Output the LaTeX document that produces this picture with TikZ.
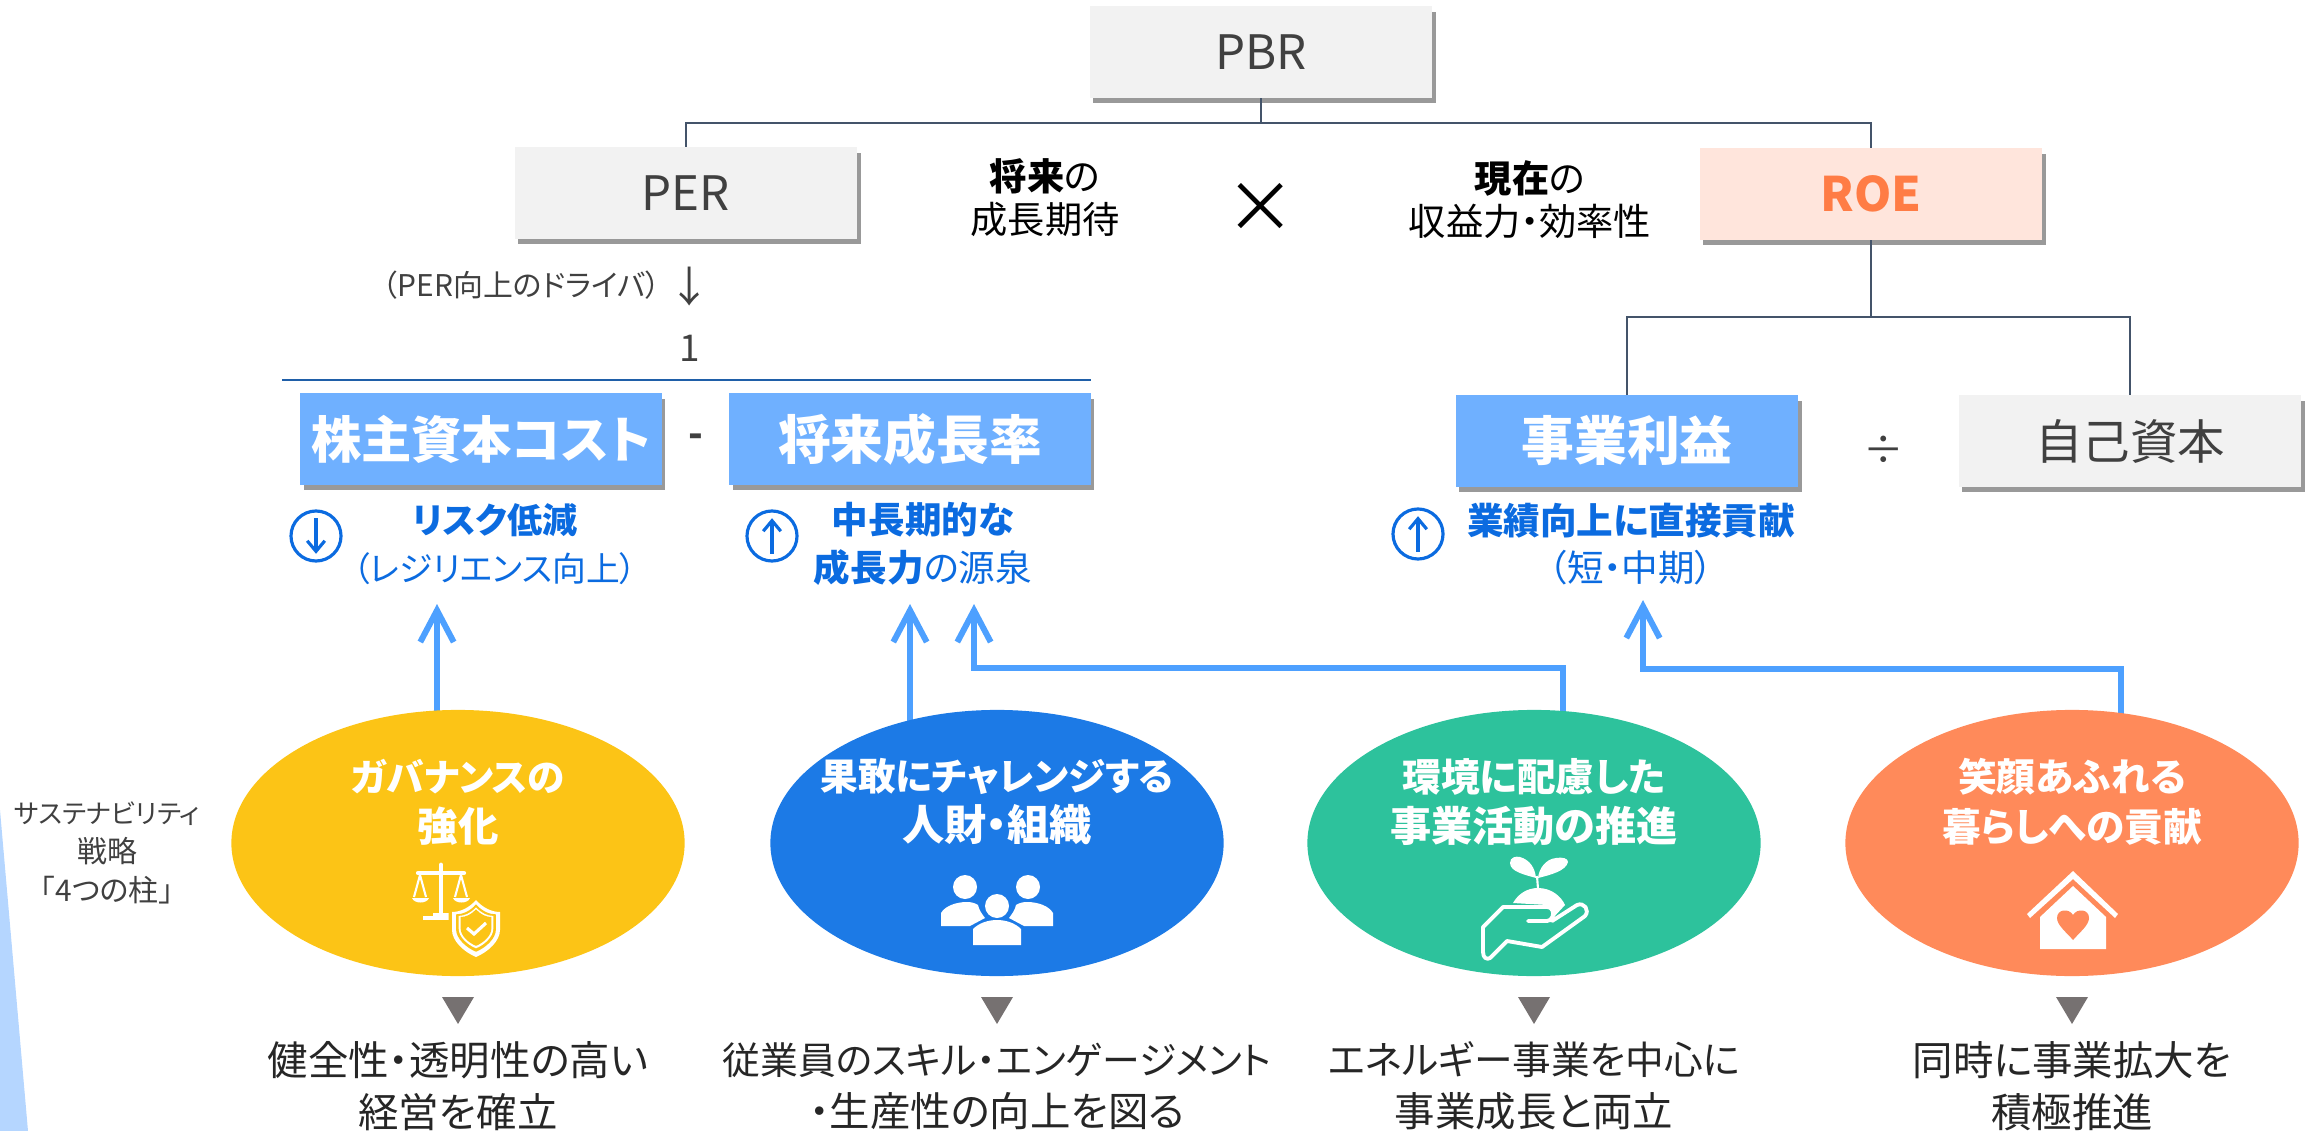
\documentclass[tikz,border=0pt]{standalone}
\usepackage{fontspec}
\setmainfont[RawFeature=+palt]{Noto Sans CJK JP}
\usetikzlibrary{arrows.meta}
\usetikzlibrary{shadows}
\usetikzlibrary{backgrounds}
\usetikzlibrary{shapes.geometric}
\definecolor{boxGray}{HTML}{F2F2F2}
\definecolor{boxPeach}{HTML}{FFE5DC}
\definecolor{boxBlue}{HTML}{6FB0FF}
\definecolor{roeOrange}{HTML}{FF7C45}
\definecolor{treeLine}{HTML}{44546A}
\definecolor{ruleBlue}{HTML}{1F5FA8}
\definecolor{flowBlue}{HTML}{4DA0FF}
\definecolor{noteBlue}{HTML}{0B6BE0}
\definecolor{inkGray}{HTML}{404040}
\definecolor{govYellow}{HTML}{FCC416}
\definecolor{peopleBlue}{HTML}{1C7AE6}
\definecolor{envGreen}{HTML}{2DC29C}
\definecolor{lifeOrange}{HTML}{FF8A5A}
\definecolor{markGray}{HTML}{767171}
\definecolor{sliverBlue}{HTML}{B5D6FF}
\newcommand{\fsz}[2]{\fontsize{#1}{#2}\selectfont}
\newcommand{\shieldpath}{(0,-26) .. controls (-7,-18) and (-16,-14) .. (-24,-14) -- (-24,4) .. controls (-24,15) and (-12,26) .. (0,31) .. controls (12,26) and (24,15) .. (24,4) -- (24,-14) .. controls (16,-14) and (7,-18) .. (0,-26) -- cycle}
\tikzset{
  kpi/.style={minimum width=3.42cm,minimum height=0.91cm,inner sep=0pt,
    drop shadow={shadow xshift=1pt,shadow yshift=-1.5pt,opacity=.4,fill=black}},
  graybox/.style={kpi,fill=boxGray,text=inkGray,font=\fsz{13.5}{16}},
  bluebox/.style={kpi,fill=boxBlue,text=white,font=\fsz{15}{18}\bfseries},
  tree/.style={draw=treeLine,line width=0.4pt},
  flow/.style={draw=flowBlue,line width=1.7pt,-{Straight Barb[length=9pt,width=9.5pt]}},
  note/.style={align=center,inner sep=0pt,text=noteBlue,font=\fsz{10.4}{13.5}},
  plain/.style={align=center,inner sep=0pt,text=inkGray},
  updown/.style={circle,draw=noteBlue,line width=0.9pt,minimum size=0.5cm,inner sep=0pt},
  markarrow/.style={draw=noteBlue,line width=0.9pt,-{Straight Barb[length=3pt,width=5pt]}},
  pillar/.style={ellipse,minimum width=4.53cm,minimum height=2.66cm,inner sep=0pt},
}
\begin{document}
\begin{tikzpicture}[x=0.01cm,y=-0.01cm]
  \useasboundingbox (0,0) rectangle (2313,1131);
  \fill[sliverBlue] (0,810) -- (28,1131) -- (0,1131) -- cycle;

  % top row
  \node[graybox] (pbr) at (1261,52) {PBR};
  \node[graybox] (per) at (686,193) {PER};
  \node[kpi,fill=boxPeach,text=roeOrange,font=\fsz{13.5}{16}\bfseries] (roe) at (1871,194) {ROE};
  \node[plain,text=black,font=\fsz{10.6}{12.2}] (future) at (1045,198) {\textbf{将来}の\\成長期待};
  \node[plain,text=black,font=\fsz{10.6}{12.2}] (present) at (1530,200) {\textbf{現在}の\\収益力・効率性};
  \node[plain,text=black,font=\fsz{20}{22}] (times) at (1261,208) {×};

  % fraction
  \node[plain,anchor=east,font=\fsz{8.5}{10}] (driver) at (661,285) {（PER向上のドライバ）};
  \node[plain,font=\fsz{12}{14}] (driverArrow) at (690,287) {↓};
  \node[plain,font=\fsz{10.5}{12}] (one) at (690,348) {1};
  \coordinate (ruleL) at (282,380);
  \coordinate (ruleR) at (1091,380);
  \draw[draw=ruleBlue,line width=0.5pt] (ruleL) -- (ruleR);
  \node[bluebox,minimum width=3.61cm,font=\fsz{14.3}{18}\bfseries] (cost) at (481,439) {株主資本コスト};
  \node[plain,font=\fsz{11}{12}\bfseries] (minus) at (696,441) {-};
  \node[bluebox,minimum width=3.61cm] (growth) at (910,439) {将来成長率};
  \node[bluebox] (profit) at (1627,441) {事業利益};
  \node[plain,font=\fsz{11.5}{15}] (divide) at (1884,450) {÷};
  \node[graybox] (equity) at (2130,441) {自己資本};

  % tree lines
  \coordinate (pbrJoin) at (1261,123);
  \coordinate (roeJoin) at (1871,317);
  \draw[tree] (pbr.south) -- (pbrJoin);
  \draw[tree] (per.north) |- (pbrJoin) -| (roe.north);
  \draw[tree] (roe.south) -- (roeJoin);
  \draw[tree] (profit.north) |- (roeJoin) -| (equity.north);

  % notes
  \foreach \name/\x/\y in {riskMark/316/536,growMark/772/536,profitMark/1418/534}
  {
    \node[updown] (\name) at (\x,\y) {};
  }
  \draw[markarrow] ([yshift=-2.5pt]riskMark.north) -- ([yshift=2.5pt]riskMark.south);
  \draw[markarrow] ([yshift=2.5pt]growMark.south) -- ([yshift=-2.5pt]growMark.north);
  \draw[markarrow] ([yshift=2.5pt]profitMark.south) -- ([yshift=-2.5pt]profitMark.north);
  \node[note,font=\fsz{10}{13.5}] (riskNote) at (495,544) {\textbf{リスク低減}\\{\fsz{9.6}{13.5}（レジリエンス向上）}};
  \node[note] (growNote) at (923,544) {\textbf{中長期的な}\\\textbf{成長力}の源泉};
  \node[note] (profitNote) at (1631,544) {\textbf{業績向上に直接貢献}\\（短・中期）};

  % pillars
  \node[plain,font=\fsz{7.5}{11.1}] (strategy) at (107,853) {サステナビリティ\\{\fsz{8.5}{11.1}戦略}\\{\fsz{8.5}{11.1}「4つの柱」}};
  \foreach \name/\x/\col/\head/\below in {
    gov/458/govYellow/{{\fsz{10.7}{14.2}ガバナンスの}\\{\fsz{11.5}{14.2}強化}}/{健全性・透明性の高い\\経営を確立},
    people/997/peopleBlue/{{\fsz{10.7}{14.2}果敢にチャレンジする}\\{\fsz{12}{14.2}人財・組織}}/{{\fsz{10.75}{14.8}従業員のスキル・エンゲージメント}\\・生産性の向上を図る},
    env/1534/envGreen/{環境に配慮した\\{\fsz{11.7}{14.2}事業活動の推進}}/{{\fsz{11}{14.8}エネルギー事業を中心に}\\事業成長と両立},
    life/2072/lifeOrange/{笑顔あふれる\\暮らしへの貢献}/{同時に事業拡大を\\積極推進}}
  {
    \node[pillar,fill=\col] (\name) at (\x,843) {};
    \node[align=center,inner sep=0pt,text=white,font=\fsz{11}{14.2}\bfseries] (\name Head) at (\x,802) {\head};
    \fill[markGray] ({\x-16},997) -- ({\x+16},997) -- (\x,1024) -- cycle;
    \node[align=center,inner sep=0pt,text=black!85,font=\fsz{11.5}{14.8}] (\name Below) at (\x,1086) {\below};
  }

  % arrows
  \coordinate (riskTip) at (437,604);
  \coordinate (growTipA) at (910,604);
  \coordinate (growTipB) at (974,604);
  \coordinate (profitTip) at (1643,600);
  \begin{scope}[on background layer]
    \draw[flow] (riskTip |- gov.center) -- (riskTip);
    \draw[flow] (growTipA |- people.center) -- (growTipA);
    \draw[flow] (1563,843) |- (974,668) -- (growTipB);
    \draw[flow] (2121,843) |- (1643,669) -- (profitTip);
  \end{scope}

  % scales and shield
  \draw[white,line width=1.4pt,line cap=round] (441,865) -- (441,915);
  \draw[white,line width=1.2pt,line cap=round] (418,873) -- (464,873);
  \fill[white] (423,916) rectangle (458,920);
  \fill[white] (433,913) rectangle (450,916);
  \draw[white,line width=0.6pt] (414,897) -- (420,875) -- (426,897);
  \draw[white,line width=0.6pt] (455,897) -- (461,875) -- (467,897);
  \fill[white] (412,898) -- (429,898) .. controls (427,904) and (414,904) .. (412,898) -- cycle;
  \fill[white] (453,898) -- (470,898) .. controls (468,904) and (455,904) .. (453,898) -- cycle;
  \begin{scope}[shift={(476,926)}]
    \fill[govYellow] [scale=1.14] \shieldpath;
    \fill[white] \shieldpath;
    \fill[govYellow] [scale=0.83] \shieldpath;
    \fill[white] [scale=0.72] \shieldpath;
    \fill[govYellow] [scale=0.64] \shieldpath;
  \end{scope}
  \draw[white,line width=0.9pt] (467,928) -- (474,934) -- (486,923);

  % people
  \fill[white] (941,926) -- (941,913) .. controls (945,906) and (956,902) .. (967,902) .. controls (971,902) and (975,903) .. (978,905) .. controls (979,910) and (982,914) .. (985,918) -- (970,926) -- cycle;
  \fill[white] (1053,926) -- (1053,913) .. controls (1049,906) and (1038,902) .. (1027,902) .. controls (1023,902) and (1019,903) .. (1016,905) .. controls (1015,910) and (1012,914) .. (1009,918) -- (1024,926) -- cycle;
  \foreach \hx/\hy in {965/887,1028/887,997/906}
  {
    \fill[white] (\hx,\hy) circle (12);
  }
  \fill[white] (973,945) -- (973,929) .. controls (979,923) and (988,920) .. (997,920) .. controls (1006,920) and (1015,923) .. (1021,929) -- (1021,945) -- cycle;

  % seedling on a hand
  \fill[white] (1536,878) .. controls (1526,875) and (1510,872) .. (1510,863) .. controls (1510,857) and (1516,856) .. (1520,857) .. controls (1530,860) and (1535,868) .. (1536,878) -- cycle;
  \fill[white] (1538,878) .. controls (1539,868) and (1546,859) .. (1556,858) .. controls (1562,857) and (1568,858) .. (1568,862) .. controls (1566,871) and (1550,875) .. (1538,878) -- cycle;
  \draw[white,line width=0.6pt] (1537,876) -- (1538,889);
  \fill[white] (1513,903) .. controls (1518,894) and (1527,888) .. (1538,888) .. controls (1551,888) and (1561,896) .. (1565,905) -- (1553,918) -- (1553,910) -- (1547,905) -- cycle;
  \draw[white,line width=1.1pt,line join=round,line cap=round] (1528,921) -- (1547,921) .. controls (1555,920) and (1555,907) .. (1547,907) -- (1503,907) -- (1483,927) -- (1483,952) .. controls (1483,958) and (1487,960) .. (1490,958) -- (1507,941) -- (1542,947) -- (1585,916) .. controls (1590,910) and (1584,902) .. (1577,905) -- (1552,921);

  % house
  \fill[white] (2073,871) -- (2118,914) -- (2115,918) -- (2073,879) -- (2030,918) -- (2027,914) -- cycle;
  \fill[white] (2073,886) -- (2106,917) -- (2106,949) -- (2040,949) -- (2040,917) -- cycle;
  \fill[lifeOrange] (2073,940) .. controls (2066,932) and (2057,925) .. (2057,918) .. controls (2057,909) and (2069,908) .. (2073,915) .. controls (2077,908) and (2089,909) .. (2089,918) .. controls (2089,925) and (2080,932) .. (2073,940) -- cycle;
\end{tikzpicture}
\end{document}
